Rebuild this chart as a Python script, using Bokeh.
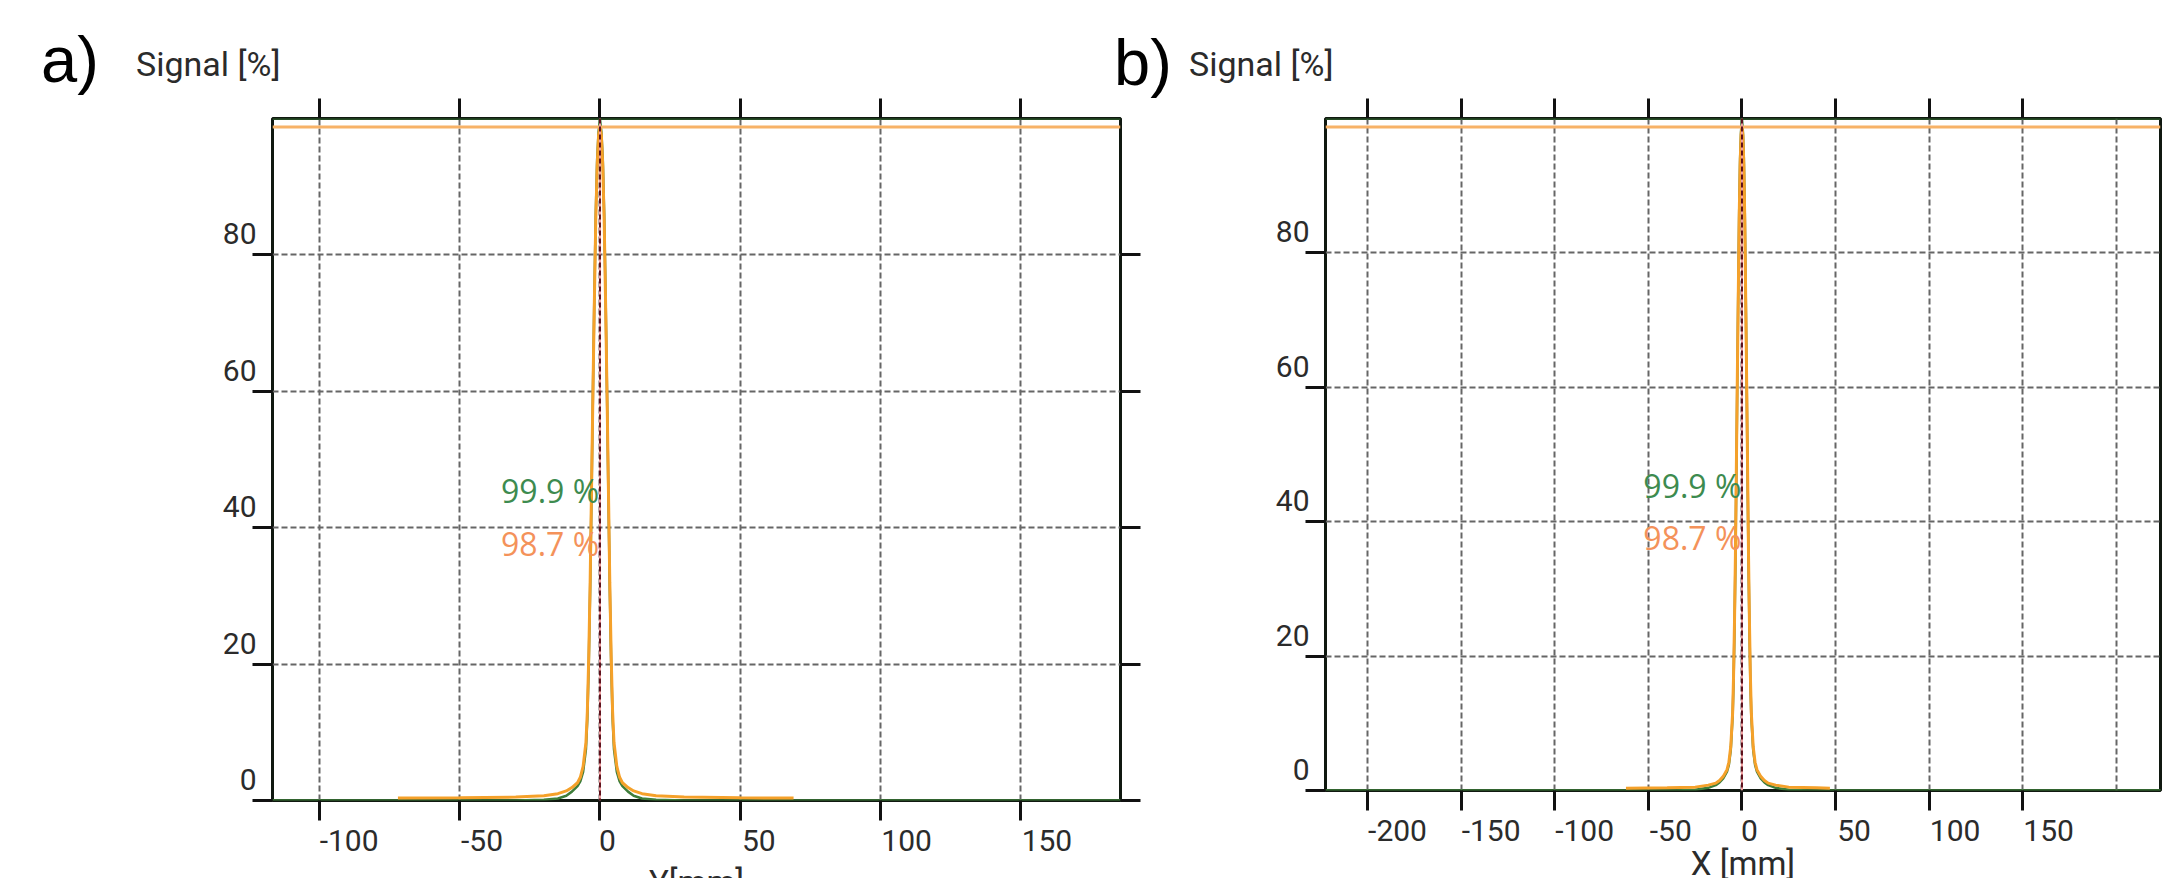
from bokeh.plotting import figure
from bokeh.models import Range1d, LinearAxis, FixedTicker, Span, ColumnDataSource, Div
from bokeh.layouts import row, column
from bokeh.embed import file_html
from bokeh.resources import INLINE
from bokeh.core.properties import value

# ---------------- data ----------------
y_ticks = [0, 20, 40, 60, 80]
a_x_ticks = [-100, -50, 0, 50, 100, 150]
b_x_ticks = [-200, -150, -100, -50, 0, 50, 100, 150]
b_x_grid = [-200, -150, -100, -50, 0, 50, 100, 150, 200]

levels = [99.9, 98.7]
level_labels = ["99.9 %", "98.7 %"]
level_label_y = [45.4, 37.6]

panel_letters = ["a)", "b)"]
y_title = "Signal [%]"
x_titles = ["Y[mm]", "X [mm]"]

# panel a) : profile along Y
a_green_x = [-117, -30, -20, -15, -12, -10, -8, -7, -6, -5, -4.5, -4, -3.5, -3, -2.5, -2, -1.5, -1, -0.5,
             0, 0.5, 1, 1.5, 2, 2.5, 3, 3.5, 4, 4.5, 5, 6, 7, 8, 10, 12, 15, 20, 30, 186]
a_green_y = [0, 0, 0.1, 0.3, 0.7, 1.3, 2.1, 2.8, 4.2, 7.5, 12, 20, 31, 45, 60, 74, 86, 94, 98,
             99.9, 98, 94, 86, 74, 60, 45, 31, 20, 12, 7.5, 4.2, 2.8, 2.1, 1.3, 0.7, 0.3, 0.1, 0, 0]
a_orange_x = [-72, -50, -30, -20, -15, -12, -10, -8, -7, -6, -5, -4.5, -4, -3.5, -3, -2.5, -2, -1.5, -1, -0.5,
              0, 0.5, 1, 1.5, 2, 2.5, 3, 3.5, 4, 4.5, 5, 6, 7, 8, 10, 12, 15, 20, 30, 50, 69]
a_orange_y = [0.35, 0.4, 0.5, 0.7, 1.0, 1.4, 1.9, 2.6, 3.4, 5.0, 8.5, 13, 21, 32, 46, 60, 73, 85, 93, 97.5,
              98.7, 97.5, 93, 85, 73, 60, 46, 32, 21, 13, 8.5, 5.0, 3.4, 2.6, 1.9, 1.4, 1.0, 0.7, 0.5, 0.4, 0.35]

# panel b) : profile along X
b_green_x = [-223, -35, -25, -18, -14, -12, -10, -8, -7, -6, -5, -4.5, -4, -3.5, -3, -2.5, -2, -1.5, -1, -0.5,
             0, 0.5, 1, 1.5, 2, 2.5, 3, 3.5, 4, 4.5, 5, 6, 7, 8, 10, 12, 14, 18, 25, 35, 224]
b_green_y = [0, 0, 0.1, 0.4, 0.8, 1.2, 1.8, 2.8, 3.8, 6, 11, 16, 24, 34, 47, 61, 74, 86, 94, 98,
             99.9, 98, 94, 86, 74, 61, 47, 34, 24, 16, 11, 6, 3.8, 2.8, 1.8, 1.2, 0.8, 0.4, 0.1, 0, 0]
b_orange_x = [-62, -40, -25, -18, -14, -12, -10, -8, -7, -6, -5, -4.5, -4, -3.5, -3, -2.5, -2, -1.5, -1, -0.5,
              0, 0.5, 1, 1.5, 2, 2.5, 3, 3.5, 4, 4.5, 5, 6, 7, 8, 10, 12, 14, 18, 25, 40, 47]
b_orange_y = [0.35, 0.4, 0.5, 0.8, 1.1, 1.5, 2.1, 3.1, 4.2, 6.5, 11.5, 17, 25, 35, 48, 61, 73, 85, 93, 97.5,
              98.7, 97.5, 93, 85, 73, 61, 48, 35, 25, 17, 11.5, 6.5, 4.2, 3.1, 2.1, 1.5, 1.1, 0.8, 0.5, 0.4, 0.35]

# ---------------- style ----------------
GREEN = "#3e7d3a"
ORANGE = "#f5a12a"
TXT_GREEN = "#3d8b4f"
TXT_ORANGE = "#f4925a"
FONT = "Roboto"
LETTER_FONT = "Liberation Sans"
INK = "#2b2b2b"
HEADER_H = 88
TOP = 20
BOTTOM = 120


def left_start_label(t):
    # centred label padded with no-break spaces so the digits start at the tick
    s = str(t)
    w = sum(0.276 if ch == "-" else 0.562 for ch in s)
    return "\u00a0" * round(w / 0.248) + s


def make_panel(width, height, min_left, min_right, x_start, x_end, x_ticks, x_grid,
               gx, gy, ox, oy, right_axis, x_title, title_standoff):
    p = figure(width=width, height=height, output_backend="svg", toolbar_location=None,
               x_range=Range1d(x_start, x_end), y_range=Range1d(0, 99.95),
               min_border_left=min_left, min_border_right=min_right,
               min_border_top=TOP, min_border_bottom=BOTTOM,
               background_fill_color="white", border_fill_color=None,
               outline_line_color="#101810", outline_line_width=3)
    p.xaxis.ticker = FixedTicker(ticks=x_ticks)
    p.yaxis.ticker = FixedTicker(ticks=y_ticks)
    p.xgrid.ticker = FixedTicker(ticks=x_grid)
    p.ygrid.ticker = FixedTicker(ticks=y_ticks)
    for g in (p.xgrid, p.ygrid):
        g.grid_line_color = "#666666"
        g.grid_line_width = 2
        g.grid_line_dash = "6 3"

    extra = [("above", x_ticks)]
    if right_axis:
        extra.append(("right", y_ticks))
    for side, ticks in extra:
        ax = LinearAxis(ticker=FixedTicker(ticks=ticks))
        ax.major_label_text_font_size = "1px"
        ax.major_label_text_color = None
        ax.major_label_standoff = 0
        p.add_layout(ax, side)

    for ax in p.axis:
        ax.axis_line_color = None
        ax.major_tick_out = 20
        ax.major_tick_in = 0
        ax.major_tick_line_width = 3
        ax.major_tick_line_color = "#111111"
        ax.minor_tick_line_color = None
        ax.major_label_text_font = FONT

    xb = p.below[0]
    xb.major_label_text_font_size = "30px"
    xb.major_label_text_color = INK
    xb.major_label_standoff = 2
    xb.major_label_overrides = {t: left_start_label(t) for t in x_ticks}
    xb.axis_label = x_title
    xb.axis_label_text_font = FONT
    xb.axis_label_text_font_size = "33px"
    xb.axis_label_text_font_style = "normal"
    xb.axis_label_text_color = INK
    xb.axis_label_standoff = title_standoff

    yl = p.left[0]
    yl.major_label_text_font_size = "30px"
    yl.major_label_text_color = INK
    yl.major_label_standoff = -4
    yl.major_label_overrides = {t: f"{t}\n" for t in y_ticks}

    # horizontal level lines
    p.add_layout(Span(location=levels[1], dimension="width", line_color="#f7b267", line_width=3))
    p.add_layout(Span(location=levels[0], dimension="width", line_color="#2d5e2d", line_width=2))

    p.line(gx, gy, line_color=GREEN, line_width=2.5)
    p.line(ox, oy, line_color=ORANGE, line_width=3)

    # centre line
    p.add_layout(Span(location=0, dimension="height", line_color="#f0a0a0", line_width=2))
    p.add_layout(Span(location=0, dimension="height", line_color="#5c0f1a", line_width=2,
                      line_dash="5 3"))

    src = ColumnDataSource(dict(x=[-0.3, -0.3], y=level_label_y, t=level_labels,
                                c=[TXT_GREEN, TXT_ORANGE]))
    p.text(x="x", y="y", text="t", source=src, text_color="c", text_align="right",
           text_baseline="middle", text_font=value("Open Sans"), text_font_size="32px")
    return p


pa = make_panel(1172, 822, 272, 52, -116.7, 185.5, a_x_ticks, a_x_ticks,
                a_green_x, a_green_y, a_orange_x, a_orange_y, True, x_titles[0], 2)
pb = make_panel(991, 812, 153, 3, -222.6, 223.7, b_x_ticks, b_x_grid,
                b_green_x, b_green_y, b_orange_x, b_orange_y, False, x_titles[1], -7)


def span(text, left, top, size, font, color):
    return (f'<span style="position:absolute;left:{left}px;top:{top}px;font-family:\'{font}\';'
            f'font-size:{size}px;line-height:1;white-space:nowrap;color:{color}">'
            f'{text}</span>')


header_html = (
    f'<div style="position:relative;width:2163px;height:{HEADER_H}px;">'
    + span(panel_letters[0], 36, 22, 65, LETTER_FONT, "#000")
    + span(y_title, 131, 42, 34, FONT, INK)
    + span(panel_letters[1], 1109, 25, 65, LETTER_FONT, "#000")
    + span(y_title, 1184, 42, 34, FONT, INK)
    + '</div>'
)
header = Div(text=header_html, width=2163, height=HEADER_H, styles={"overflow": "visible"})

layout = column(header, row(pa, pb, spacing=0), spacing=0)
open("out.html", "w").write(file_html(layout, INLINE))
